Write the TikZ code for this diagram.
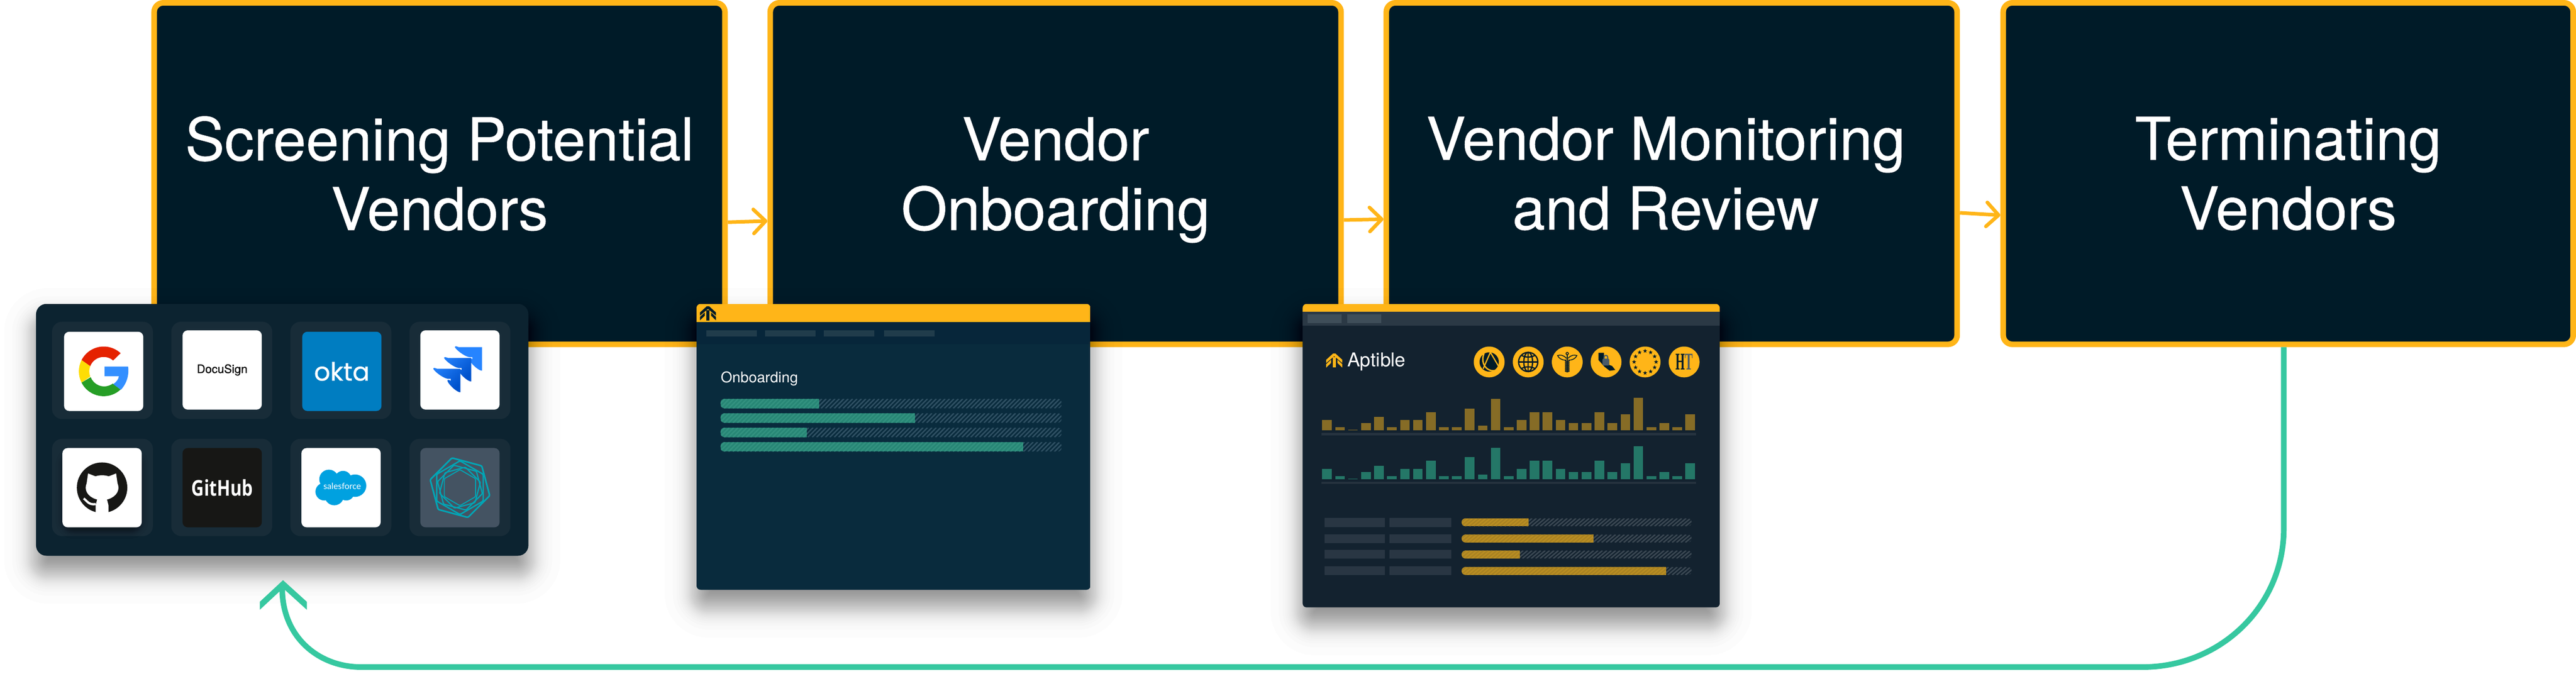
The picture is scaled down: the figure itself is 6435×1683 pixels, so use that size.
\documentclass[tikz,border=0pt]{standalone}
\usepackage{fontspec}
\setmainfont{TeX Gyre Heros}
\newfontfamily\stagefont[FakeBold=0.5]{TeX Gyre Heros}
\newfontfamily\signfont[FakeBold=0.4]{TeX Gyre Heros}
\newfontfamily\oktafont[FakeBold=0.6]{Poppins}
\newfontfamily\cloudfont{Lato}
\newfontfamily\hubfont[FakeStretch=0.8]{Open Sans}
\newfontfamily\htfont[FakeStretch=0.5]{Liberation Serif}
\usetikzlibrary{arrows.meta,shapes.geometric}

\definecolor{boxnavy}{HTML}{001B28}
\definecolor{amber}{HTML}{FFB518}
\definecolor{mint}{HTML}{36C8A0}
\definecolor{appspanel}{HTML}{0C2330}
\definecolor{appscell}{HTML}{182C38}
\definecolor{onbpanel}{HTML}{092B3D}
\definecolor{onbnav}{HTML}{07263A}
\definecolor{onbbar}{HTML}{203C4B}
\definecolor{onbfill}{HTML}{278675}
\definecolor{onbstripe}{HTML}{339280}
\definecolor{onbhatch}{HTML}{2F5063}
\definecolor{monpanel}{HTML}{13222F}
\definecolor{monnav}{HTML}{2B3945}
\definecolor{monbar}{HTML}{3F4E59}
\definecolor{monrow}{HTML}{293643}
\definecolor{monaxis}{HTML}{26333F}
\definecolor{monolive}{HTML}{866C26}
\definecolor{monteal}{HTML}{247767}
\definecolor{monfill}{HTML}{BA8E22}
\definecolor{monstripe}{HTML}{A98222}
\definecolor{monhatch}{HTML}{3B4853}
\definecolor{slate}{HTML}{4A5B69}
\definecolor{tilegrey}{HTML}{445362}
\definecolor{hexteal}{HTML}{00A5B5}
\definecolor{jirablue}{HTML}{2684FF}
\definecolor{jiradeep}{HTML}{0052CC}
\definecolor{oktablue}{HTML}{007DC1}
\definecolor{cloudblue}{HTML}{00A1E0}
\definecolor{hubblack}{HTML}{171715}

\tikzset{
	stagebox/.style={draw=amber,fill=boxnavy,line width=1.4mm,rounded corners=2.3mm,minimum width=142.6mm,minimum height=85.3mm,inner sep=0,align=center,text=white,font=\stagefont\fontsize{42}{49.5}\selectfont,execute at begin node={\rule{0pt}{11.5mm}}},
	flowarrow/.style={draw=amber,line width=.9mm,-{Straight Barb[length=3mm,width=6mm,round]}},
	returnline/.style={draw=mint,line width=1.4mm},
	cellbox/.style={fill=appscell,rounded corners=2.5mm,minimum width=25.2mm,minimum height=24.3mm,inner sep=0},
	tilebox/.style={rounded corners=1.3mm,minimum size=19.8mm,inner sep=0},
	badge/.style={circle,fill=amber,minimum size=7.7mm,inner sep=0},
	eustar/.style={star,star points=5,star point ratio=2.4,fill=boxnavy,minimum size=1.1mm,inner sep=0},
}

% x1, y1, x2, y2, spread, opacity of a layer, layers
\newcommand{\softshadow}[7]{%
	\foreach \i in {1,...,#7} {
		\pgfmathsetmacro\g{(-3+18*ln((\i-.5)/(#7+.5-\i)))*#5}
		\pgfmathsetmacro\layerrad{max(2,30+\g)*.1}
		\fill[black,opacity=#6,rounded corners=\layerrad mm] (#1-\g,#2+40*#5-\g) rectangle (#3+\g,#4+40*#5+\g);
	}
}

% x1, x2, y1, y2, end of fill, fill, stripe, hatch
\newcommand{\progbar}[8]{%
	\begin{scope}
		\clip[rounded corners=1mm] (#1,#3) rectangle (#2,#4);
		\pgfmathtruncatemacro\hatchcount{(#2-#1+24)/11}
		\foreach \k in {0,...,\hatchcount} {
			\draw[#8,line width=.35mm] (#1+11*\k-24,#4) -- (#1+11*\k,#3);
		}
		\fill[#6] (#1,#3) rectangle (#5,#4);
		\clip (#1,#3) rectangle (#5,#4);
		\foreach \k in {0,...,\hatchcount} {
			\draw[#7,line width=.35mm] (#1+11*\k-24,#4) -- (#1+11*\k,#3);
		}
	\end{scope}
}

% centre, colour
\newcommand{\aptmark}[2]{%
	\begin{scope}[shift={#1},y=0.1mm]
		\fill[#2] (-3,17.5) -- (3,17.5) -- (20,2) -- (20,-6) -- (0,11) -- (-20,-6) -- (-20,2) -- cycle;
		\fill[#2] (-4,-17.5) rectangle (4,8);
		\fill[#2] (-20,-9) -- (-8,2) -- (-8,-6) -- (-20,-17.5) -- cycle;
		\fill[#2] (20,-9) -- (8,2) -- (8,-6) -- (20,-17.5) -- cycle;
	\end{scope}
}

% corner, fill or shading
\newcommand{\jirablade}[2]{%
	\path[#2] #1 -- ++(58,0) -- ++(0,58.7) .. controls +(-14,0) and +(-24,-12) .. ++(-24,-28.7) -- ++(0,-5) -- ++(-6,0) .. controls +(-16,0) and +(-28,-11) .. ++(-28,-25) -- cycle;
}

\begin{document}
\begin{tikzpicture}[x=0.1mm,y=-0.1mm]
	\useasboundingbox (0,0) rectangle (6435,1683);

	% the four stages
	\node[stagebox] (box1) at (1098,433.5) {Screening Potential\\Vendors};
	\node[stagebox] (box2) at (2637,433.5) {Vendor\\\smash{Onboarding}};
	\node[stagebox] (box3) at (4176,433.5) {\hspace*{-3mm}Vendor Monitoring\\\hspace*{-3mm}and Review};
	\node[stagebox,minimum width=142.4mm] (box4) at (5716,433.5) {Terminating\\Vendors};

	\draw[flowarrow] ([yshift=-12.15mm]box1.east) -- ([yshift=-11.85mm]box2.west);
	\draw[flowarrow] ([yshift=-11.6mm]box2.east) -- ([yshift=-11.4mm]box3.west);
	\draw[flowarrow] ([yshift=-9.8mm]box3.east) -- ([yshift=-10.4mm]box4.west);

	% apps panel
	\softshadow{90}{759}{1320}{1388}{1}{.011}{50}
	\node[fill=appspanel,rounded corners=2.6mm,minimum width=123mm,minimum height=62.9mm,inner sep=0] (appspanel) at (705,1073.5) {};
	\foreach \n/\cx/\cy in {1/256/925,2/554/925,3/851.5/925,4/1149/925,5/256/1217.5,6/554/1217.5,7/851.5/1217.5,8/1149/1217.5} {
		\node[cellbox] (cell\n) at (\cx,\cy) {};
	}
	\softshadow{156}{1119}{354}{1317}{.3}{.03}{14}

	\node[tilebox,fill=white] (google) at (259,927.5) {};
	\begin{scope}[shift={(google.center)},y=0.1mm]
		\fill[red!70!orange!90!black] (47:62) arc[start angle=47,end angle=153,radius=62] -- (159:36) arc[start angle=159,end angle=49,radius=36] -- cycle;
		\fill[yellow!80!orange] (153:62) arc[start angle=153,end angle=207,radius=62] -- (201:36) arc[start angle=201,end angle=159,radius=36] -- cycle;
		\fill[green!55!black!85!white] (207:62) arc[start angle=207,end angle=313,radius=62] -- (307:38) arc[start angle=307,end angle=201,radius=36] -- cycle;
		\fill[blue!55!cyan!80!white] (2,12) -- (61,12) .. controls (64,-10) and (57,-31) .. (43,-46) -- (24,-32) .. controls (32,-26) and (37,-20) .. (38,-12) -- (2,-12) -- cycle;
	\end{scope}

	\node[tilebox,fill=white,text=black,font=\signfont\fontsize{8.3}{10}\selectfont] (docusign) at (555,924) {DocuSign};
	\node[tilebox,fill=oktablue,text=white,font=\oktafont\fontsize{18}{20}\selectfont] (okta) at (854,927.5) {okta};

	\node[tilebox,fill=white] (jira) at (1149,924) {};
	\jirablade{(1146,867)}{fill=jirablue}
	\jirablade{(1119,894)}{left color=jirablue,right color=jiradeep,shading angle=45}
	\jirablade{(1092,921)}{left color=jirablue,right color=jiradeep,shading angle=45}

	\node[tilebox,fill=white] (octocat) at (255,1218) {};
	\begin{scope}[shift={(octocat.center)},y=0.1mm]
		\fill[hubblack] (0,0) circle [radius=63];
		\fill[white] (0,0) ellipse [x radius=41,y radius=31];
		\fill[white] (-35,35.5) -- (-13,27) -- (13,27) -- (35,35.5) -- (39,8) -- (-39,8) -- cycle;
		\fill[white] (-12,-28) -- (12,-28) -- (16,-44) -- (16,-70) -- (-16,-70) -- (-16,-44) -- cycle;
		\draw[white,line width=.55mm] (-46,-27) .. controls (-38,-32) and (-34,-44) .. (-16,-41);
	\end{scope}

	\node[tilebox,fill=hubblack,text=white,font=\hubfont\bfseries\fontsize{15.5}{18}\selectfont] (github) at (555,1218) {GitHub};

	\node[tilebox,fill=white] (salesforce) at (852,1218) {};
	\begin{scope}
		\fill[cloudblue] (821.6,1197) circle [radius=24];
		\fill[cloudblue] (857,1197) circle [radius=21];
		\fill[cloudblue] (887,1213) circle [radius=28];
		\fill[cloudblue] (810,1228) circle [radius=22];
		\fill[cloudblue] (835,1238) circle [radius=24];
		\fill[cloudblue] (865,1230) circle [radius=20];
		\fill[cloudblue] (815,1195) rectangle (880,1235);
	\end{scope}
	\node[text=white,inner sep=0,font=\cloudfont\fontsize{6.1}{7}\selectfont] (cloudword) at (855,1214) {salesforce};

	\node[tilebox,fill=tilegrey] (hexmark) at (1149,1218) {};
	\begin{scope}[shift={(hexmark.center)},y=0.1mm]
		\foreach \r/\a/\w in {77/105/.4,67/90/.35,58/105/.3,53/75/.3,45/90/.25} {
			\draw[hexteal,line width=\w mm,rounded corners=.3mm] (\a:\r) -- (\a+60:\r) -- (\a+120:\r) -- (\a+180:\r) -- (\a+240:\r) -- (\a+300:\r) -- cycle;
		}
	\end{scope}

	% onboarding panel
	\softshadow{1740}{759}{2724}{1473}{1}{.011}{50}
	\begin{scope}
		\clip[rounded corners=1mm] (1740,759) rectangle (2724,1473);
		\fill[onbpanel] (1740,759) rectangle (2724,1473);
		\fill[onbnav] (1740,804) rectangle (2724,860);
		\fill[amber] (1740,759) rectangle (2724,804);
	\end{scope}
	\aptmark{(1768.5,782.5)}{boxnavy}
	\foreach \bx in {1764,1911,2058,2208} {
		\fill[onbbar] (\bx,825) rectangle ++(126,15);
	}
	\node[anchor=base west,inner sep=0,text=white,font=\fontsize{10.5}{12}\selectfont] (onbtitle) at (1800,955) {Onboarding};
	\progbar{1800}{2652}{996}{1020}{2046}{onbfill}{onbstripe}{onbhatch}
	\progbar{1800}{2652}{1032}{1056}{2286}{onbfill}{onbstripe}{onbhatch}
	\progbar{1800}{2652}{1068}{1092}{2016}{onbfill}{onbstripe}{onbhatch}
	\progbar{1800}{2652}{1104}{1128}{2556}{onbfill}{onbstripe}{onbhatch}

	% monitoring panel
	\softshadow{3254}{759}{4296}{1517}{1}{.011}{50}
	\begin{scope}
		\clip[rounded corners=1mm] (3254,759) rectangle (4296,1517);
		\fill[monpanel] (3254,759) rectangle (4296,1517);
		\fill[monnav] (3254,779) rectangle (4296,813);
		\fill[amber] (3254,759) rectangle (4296,779);
	\end{scope}
	\fill[monbar] (3266,785) rectangle (3351,807);
	\fill[monbar] (3365,785) rectangle (3450,807);
	\aptmark{(3333,900.5)}{amber}
	\node[anchor=base west,inner sep=0,text=white,font=\fontsize{13.6}{16}\selectfont] (aptword) at (3365,916) {Aptible};

	\foreach \n/\cx in {1/3720,2/3817.5,3/3915,4/4012,5/4109.5,6/4207} {
		\node[badge] (badge\n) at (\cx,904) {};
	}
	\begin{scope}[shift={(badge1.center)},y=0.1mm]
		\fill[boxnavy] (0,0) circle [radius=24];
		\draw[amber,line width=.3mm] (-15,-17) -- (3,24) -- (23,-10);
		\draw[amber,line width=.35mm] (-13,21) .. controls (-24,-6) and (-2,-32) .. (25,-18);
	\end{scope}
	\begin{scope}[shift={(badge2.center)},y=0.1mm,boxnavy,line width=.32mm]
		\draw (0,0) circle [radius=24];
		\draw (0,0) ellipse [x radius=11,y radius=24];
		\draw (-24,0) -- (24,0);
		\draw (0,-24) -- (0,24);
		\draw (-16,16) .. controls (-6,11) and (6,11) .. (16,16);
		\draw (-16,-16) .. controls (-6,-11) and (6,-11) .. (16,-16);
	\end{scope}
	\begin{scope}[shift={(badge3.center)},y=0.1mm,boxnavy,line width=.2mm]
		\draw (0,-25) -- (0,18);
		\draw (0,21) circle [radius=3];
		\draw (-2,9) .. controls (-10,18) and (-18,18) .. (-24,16) .. controls (-22,10) and (-12,3) .. (-2,5);
		\draw (2,9) .. controls (10,18) and (18,18) .. (24,16) .. controls (22,10) and (12,3) .. (2,5);
		\draw[samples=40,domain=-25:4] plot ({5*sin(\x*36)},\x);
		\draw[samples=40,domain=-25:4] plot ({-5*sin(\x*36)},\x);
	\end{scope}
	\begin{scope}[shift={(badge4.center)},y=0.1mm]
		\fill[boxnavy] (-19,23) -- (-5,23) -- (-5,12) -- (-2,-4) -- (15,-10) -- (23,-20) -- (9,-22) -- (-4,-12) -- (-19,5) -- cycle;
		\fill[slate,rounded corners=.2mm] (-9,-9) rectangle (8,8);
		\draw[slate,line width=.3mm] (-5,8) -- (-5,12) arc[start angle=180,end angle=0,radius=4.5] -- (4,8);
	\end{scope}
	\begin{scope}[shift={(badge5.center)},y=0.1mm]
		\foreach \i in {1,...,12} {
			\node[eustar] (star\i) at ({30*\i}:27.5) {};
		}
	\end{scope}
	\node[inner sep=0,text=boxnavy,font=\htfont\bfseries\fontsize{17}{20}\selectfont] (htmark) at (badge6) {H\textcolor{slate}{T}};

	\foreach \h [count=\i from 0] in {26,8,2,18,34,8,26,26,46,8,8,55,12,79,8,26,46,46,26,18,18,46,18,40,82,8,18,8,40} {
		\fill[monolive] (3303+\i*32.4,1075-\h) rectangle ++(24,\h);
		\fill[monteal] (3303+\i*32.4,1197-\h) rectangle ++(24,\h);
	}
	\fill[monaxis] (3300.5,1081.5) rectangle (4237,1087.5);
	\fill[monaxis] (3300.5,1203) rectangle (4237,1209);

	\foreach \ry in {1294,1335,1373,1414} {
		\fill[monrow] (3308.5,\ry) rectangle ++(150.5,22);
		\fill[monrow] (3471,\ry) rectangle ++(154,22);
	}
	\progbar{3651}{4226}{1294.5}{1314.5}{3818}{monfill}{monstripe}{monhatch}
	\progbar{3651}{4226}{1335}{1355}{3980}{monfill}{monstripe}{monhatch}
	\progbar{3651}{4226}{1375}{1395}{3797}{monfill}{monstripe}{monhatch}
	\progbar{3651}{4226}{1416}{1436}{4162}{monfill}{monstripe}{monhatch}

	% way back to the first stage
	\coordinate (backtip) at (707,1449);
	\draw[returnline] ([xshift=-1.1mm]box4.south) -- (5705,1320) .. controls (5705,1515) and (5545,1666) .. (5353,1666) -- (902,1666) .. controls (795,1666) and (705,1590) .. (705,1470);
	\fill[mint] (backtip) -- ++(59.5,54) -- ++(0,20) -- ++(-59.5,-54) -- ++(-58,54) -- ++(0,-20) -- cycle;
\end{tikzpicture}
\end{document}
